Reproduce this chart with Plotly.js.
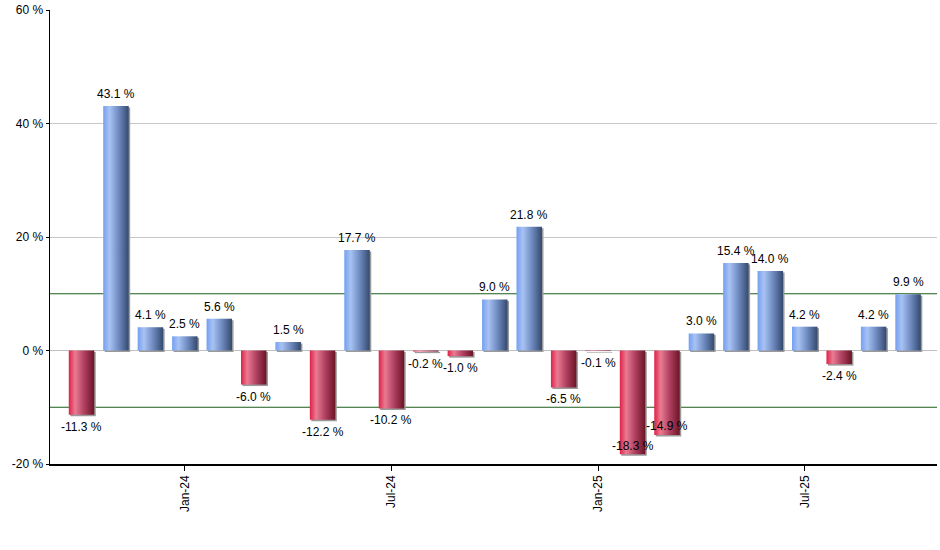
<!DOCTYPE html>
<html>
<head>
<meta charset="utf-8">
<script src="https://cdn.plot.ly/plotly-3.0.1.min.js"></script>
<style>html,body{margin:0;padding:0;background:#fff;}#chart{width:940px;height:550px;}</style>
</head>
<body>
<div id="chart"></div>
<script>
const months = ['Oct-23','Nov-23','Dec-23','Jan-24','Feb-24','Mar-24','Apr-24','May-24','Jun-24','Jul-24','Aug-24','Sep-24','Oct-24','Nov-24','Dec-24','Jan-25','Feb-25','Mar-25','Apr-25','May-25','Jun-25','Jul-25','Aug-25','Sep-25','Oct-25'];
const returns = [-11.3,43.1,4.1,2.5,5.6,-6.0,1.5,-12.2,17.7,-10.2,-0.2,-1.0,9.0,21.8,-6.5,-0.1,-18.3,-14.9,3.0,15.4,14.0,4.2,-2.4,4.2,9.9];
const tickLabels = ['Jan-24','Jul-24','Jan-25','Jul-25'];
const yTicks = [-20, 0, 20, 40, 60];

const W = 940, H = 550;
const M = {l: 50, r: 3, t: 10, b: 86};
const yRange = [-20, 60];
const xRange = [-0.915, 24.84];
const ppu = (H - M.t - M.b) / (yRange[1] - yRange[0]);
const ppx = (W - M.l - M.r) / (xRange[1] - xRange[0]);
const FONT = 'Arial, "Liberation Sans", sans-serif';

// label placement
const anns = [];
let prev = null;
for (let i = 0; i < returns.length; i++) {
  const v = returns[i];
  const txt = v.toFixed(1) + ' %';
  const w = txt.length * 5.5;
  const barEndPx = (yRange[1] - v) * ppu;
  let shift = v >= 0 ? 12 : -12;
  let labelPx = barEndPx - shift;
  const bottomPx = H - M.t - M.b;
  if (labelPx > bottomPx - 8) { shift = 8; labelPx = barEndPx - shift; }
  if (prev && Math.abs(prev.x - i) * ppx < (prev.w + w) / 2 && Math.abs(prev.px - labelPx) < 12) {
    shift = 9; labelPx = barEndPx - shift;
  }
  prev = {x: i, px: labelPx, w: w};
  anns.push({
    x: i, y: v, xref: 'x', yref: 'y', yshift: shift,
    text: txt, showarrow: false,
    font: {family: FONT, size: 12, color: '#000'},
    xanchor: 'center', yanchor: 'middle'
  });
}

const trace = {
  type: 'bar',
  x: months.map((m, i) => i),
  y: returns,
  width: 0.74,
  marker: {color: returns.map(v => v >= 0 ? '#7f9fe0' : '#c8324f'), line: {width: 0}},
  hoverinfo: 'none'
};

const layout = {
  width: W, height: H,
  margin: M,
  paper_bgcolor: '#fff', plot_bgcolor: '#fff',
  showlegend: false,
  font: {family: FONT, size: 12, color: '#000'},
  xaxis: {
    range: xRange,
    tickmode: 'array',
    tickvals: tickLabels.map(t => months.indexOf(t)),
    ticktext: tickLabels,
    tickangle: -90,
    ticks: 'outside', ticklen: 5, tickcolor: '#000',
    showgrid: false, zeroline: false,
    showline: true, linecolor: '#000', linewidth: 1.5,
    tickfont: {family: FONT, size: 12, color: '#000'},
    fixedrange: true
  },
  yaxis: {
    range: yRange,
    tickmode: 'array',
    tickvals: yTicks,
    ticktext: yTicks.map(t => t + ' %'),
    ticks: 'outside', ticklen: 3, tickcolor: '#000',
    showgrid: true, gridcolor: '#c8c8c8', gridwidth: 1,
    zeroline: true, zerolinecolor: '#c0c0c0', zerolinewidth: 1,
    showline: true, linecolor: '#000', linewidth: 1.5,
    tickfont: {family: FONT, size: 12, color: '#000'},
    fixedrange: true
  },
  shapes: [10, -10].map(v => ({
    type: 'line', xref: 'paper', yref: 'y', x0: 0, x1: 1, y0: v, y1: v,
    line: {color: '#1a5e1a', width: 1}, layer: 'below'
  })),
  annotations: anns
};

Plotly.newPlot('chart', [trace], layout, {displayModeBar: false, staticPlot: true}).then(gd => {
  const svg = gd.querySelector('.main-svg');
  const ns = 'http://www.w3.org/2000/svg';
  let defs = svg.querySelector('defs');
  if (!defs) { defs = document.createElementNS(ns, 'defs'); svg.insertBefore(defs, svg.firstChild); }
  function grad(id, stops) {
    const g = document.createElementNS(ns, 'linearGradient');
    g.setAttribute('id', id);
    g.setAttribute('x1', '0'); g.setAttribute('y1', '0');
    g.setAttribute('x2', '1'); g.setAttribute('y2', '0');
    stops.forEach(([o, c]) => {
      const s = document.createElementNS(ns, 'stop');
      s.setAttribute('offset', o); s.setAttribute('stop-color', c);
      g.appendChild(s);
    });
    defs.appendChild(g);
  }
  grad('gBlue', [['0', '#74a0f0'], ['0.25', '#a8c2f4'], ['0.6', '#6f8bc0'], ['1', '#34496e']]);
  grad('gRed', [['0', '#de2148'], ['0.25', '#ea7b92'], ['0.6', '#b04060'], ['1', '#6b1426']]);
  const paths = gd.querySelectorAll('.barlayer .point path');
  paths.forEach((p, i) => {
    const v = returns[i];
    const shadow = p.cloneNode(true);
    shadow.style.fill = '#9a9a9a';
    shadow.style.stroke = 'none';
    shadow.setAttribute('transform', 'translate(1.5,1.5)');
    p.parentNode.insertBefore(shadow, p);
    p.style.fill = v >= 0 ? 'url(#gBlue)' : 'url(#gRed)';
  });
});
</script>
</body>
</html>
